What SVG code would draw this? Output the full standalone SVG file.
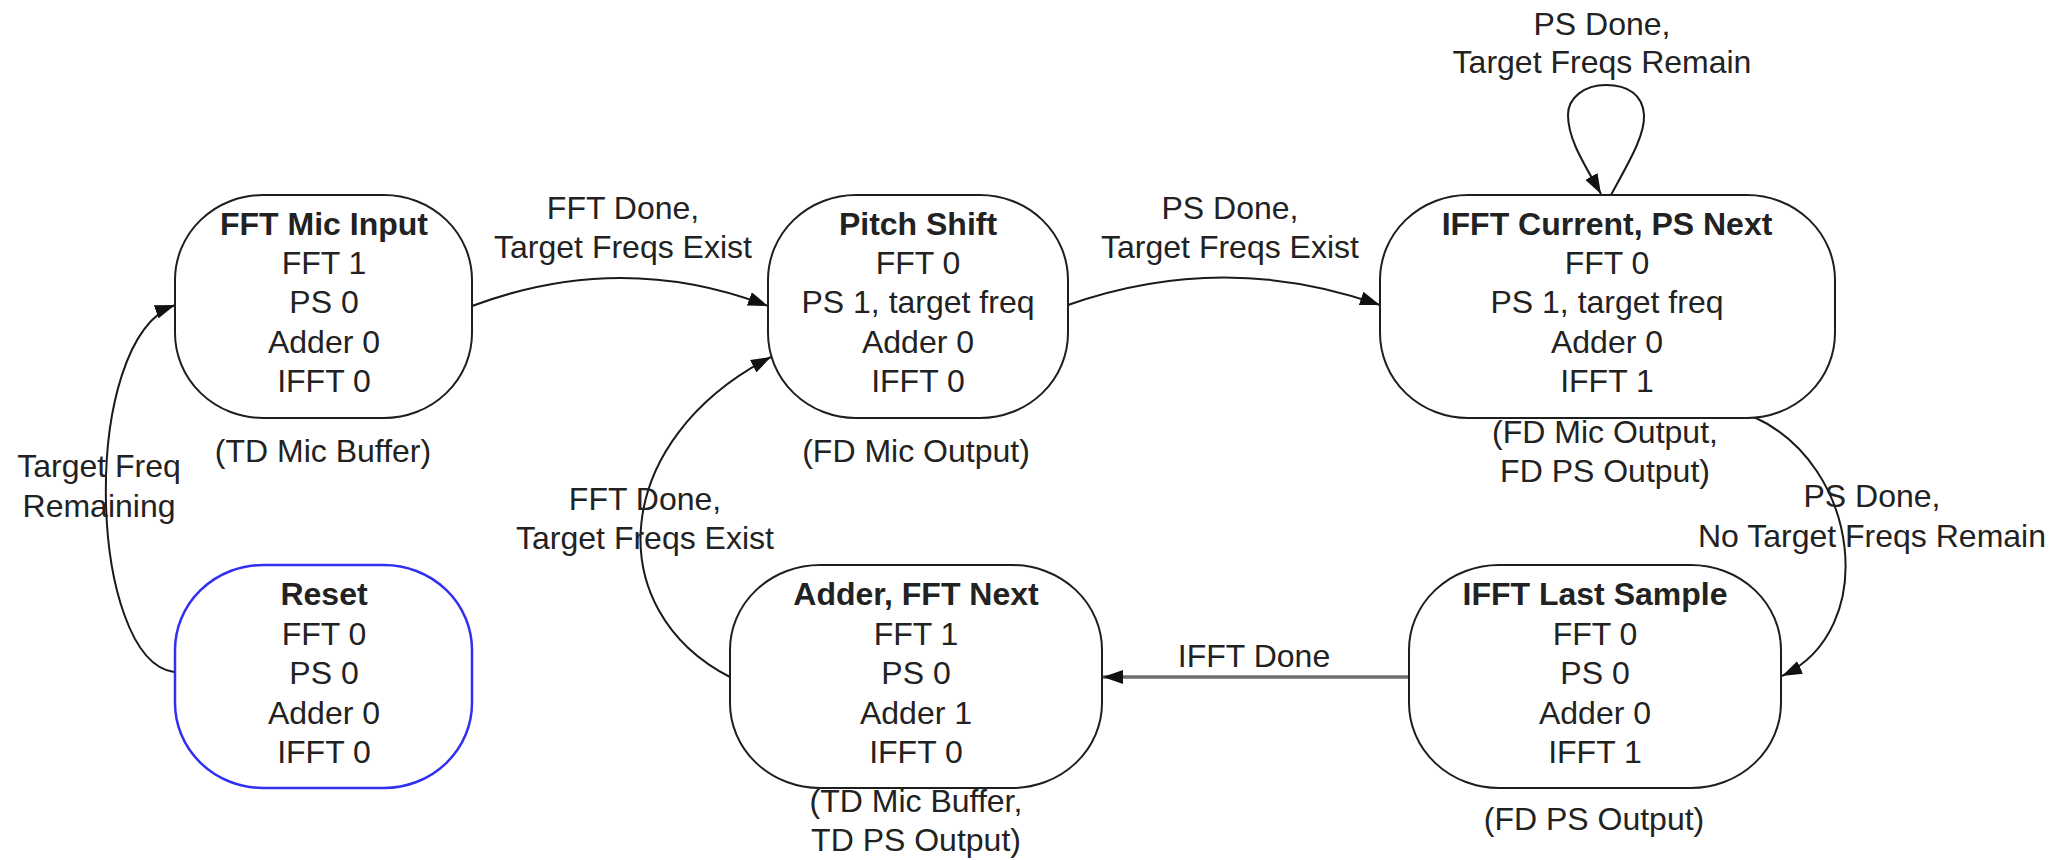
<svg xmlns="http://www.w3.org/2000/svg" width="2068" height="860" viewBox="0 0 2068 860">
<style>
  .node { fill: #ffffff; stroke: #1e1e1e; stroke-width: 2; }
  .reset { fill: #ffffff; stroke: #3030f0; stroke-width: 2.5; }
  text { font-family: "Liberation Sans", Arial, sans-serif; font-size: 32px; fill: #222222; text-anchor: middle; }
  .title { font-weight: bold; }
  .edge { fill: none; stroke: #1a1a1a; stroke-width: 2; marker-end: url(#arrow); }
  .thick { fill: none; stroke: #6e6e6e; stroke-width: 3.5; marker-end: url(#arrow); }
</style>
<defs>
  <marker id="arrow" viewBox="0 0 20 14" refX="20" refY="7" markerWidth="20" markerHeight="14" markerUnits="userSpaceOnUse" orient="auto">
    <path d="M0,0 L20,7 L0,14 z" fill="#111111"/>
  </marker>
</defs>
<rect x="0" y="0" width="2068" height="860" fill="#ffffff"/>

<g id="connectors">
  <path class="edge" d="M472,306 Q622,250 768,306"/>
  <path class="edge" d="M1068,305 Q1224,250 1380,305"/>
  <path class="edge" d="M1611,195 C1630,160 1645,135 1644,115 C1643,95 1628,85 1606,85 C1584,85 1568,98 1568,115 C1568,140 1585,165 1601,194"/>
  <path class="edge" d="M1754,417 C1860,465 1880,630 1782,676"/>
  <path class="thick" d="M1409,677 L1103,677"/>
  <path class="edge" d="M730,677 C600,610 610,440 771,357"/>
  <path class="edge" d="M174,672 C88,660 78,340 175,305"/>
  <g id="edge-labels">
    <text x="623" y="219">FFT Done,</text>
    <text x="623" y="258">Target Freqs Exist</text>
    <text x="1230" y="219">PS Done,</text>
    <text x="1230" y="258">Target Freqs Exist</text>
    <text x="1602" y="35">PS Done,</text>
    <text x="1602" y="73">Target Freqs Remain</text>
    <text x="1872" y="507">PS Done,</text>
    <text x="1872" y="547">No Target Freqs Remain</text>
    <text x="1254" y="667">IFFT Done</text>
    <text x="645" y="510">FFT Done,</text>
    <text x="645" y="549">Target Freqs Exist</text>
    <text x="99" y="477">Target Freq</text>
    <text x="99" y="517">Remaining</text>
  </g>
</g>

<g id="node-fft-mic-input">
  <rect class="node" x="175" y="195" width="297" height="223" rx="88" ry="85"/>
  <text class="title" x="324" y="235">FFT Mic Input</text>
  <text x="324" y="274">FFT 1</text>
  <text x="324" y="313">PS 0</text>
  <text x="324" y="353">Adder 0</text>
  <text x="324" y="392">IFFT 0</text>
  <text x="323" y="462">(TD Mic Buffer)</text>
</g>

<g id="node-pitch-shift">
  <rect class="node" x="768" y="195" width="300" height="223" rx="88" ry="85"/>
  <text class="title" x="918" y="235">Pitch Shift</text>
  <text x="918" y="274">FFT 0</text>
  <text x="918" y="313">PS 1, target freq</text>
  <text x="918" y="353">Adder 0</text>
  <text x="918" y="392">IFFT 0</text>
  <text x="916" y="462">(FD Mic Output)</text>
</g>

<g id="node-ifft-current">
  <rect class="node" x="1380" y="195" width="455" height="223" rx="88" ry="85"/>
  <text class="title" x="1607" y="235">IFFT Current, PS Next</text>
  <text x="1607" y="274">FFT 0</text>
  <text x="1607" y="313">PS 1, target freq</text>
  <text x="1607" y="353">Adder 0</text>
  <text x="1607" y="392">IFFT 1</text>
  <text x="1605" y="443">(FD Mic Output,</text>
  <text x="1605" y="482">FD PS Output)</text>
</g>

<g id="node-reset">
  <rect class="reset" x="175" y="565" width="297" height="223" rx="88" ry="85"/>
  <text class="title" x="324" y="605">Reset</text>
  <text x="324" y="645">FFT 0</text>
  <text x="324" y="684">PS 0</text>
  <text x="324" y="724">Adder 0</text>
  <text x="324" y="763">IFFT 0</text>
</g>

<g id="node-adder">
  <rect class="node" x="730" y="565" width="372" height="223" rx="90" ry="85"/>
  <text class="title" x="916" y="605">Adder, FFT Next</text>
  <text x="916" y="645">FFT 1</text>
  <text x="916" y="684">PS 0</text>
  <text x="916" y="724">Adder 1</text>
  <text x="916" y="763">IFFT 0</text>
  <text x="916" y="812">(TD Mic Buffer,</text>
  <text x="916" y="851">TD PS Output)</text>
</g>

<g id="node-ifft-last">
  <rect class="node" x="1409" y="565" width="372" height="223" rx="90" ry="85"/>
  <text class="title" x="1595" y="605">IFFT Last Sample</text>
  <text x="1595" y="645">FFT 0</text>
  <text x="1595" y="684">PS 0</text>
  <text x="1595" y="724">Adder 0</text>
  <text x="1595" y="763">IFFT 1</text>
  <text x="1594" y="830">(FD PS Output)</text>
</g>
</svg>
